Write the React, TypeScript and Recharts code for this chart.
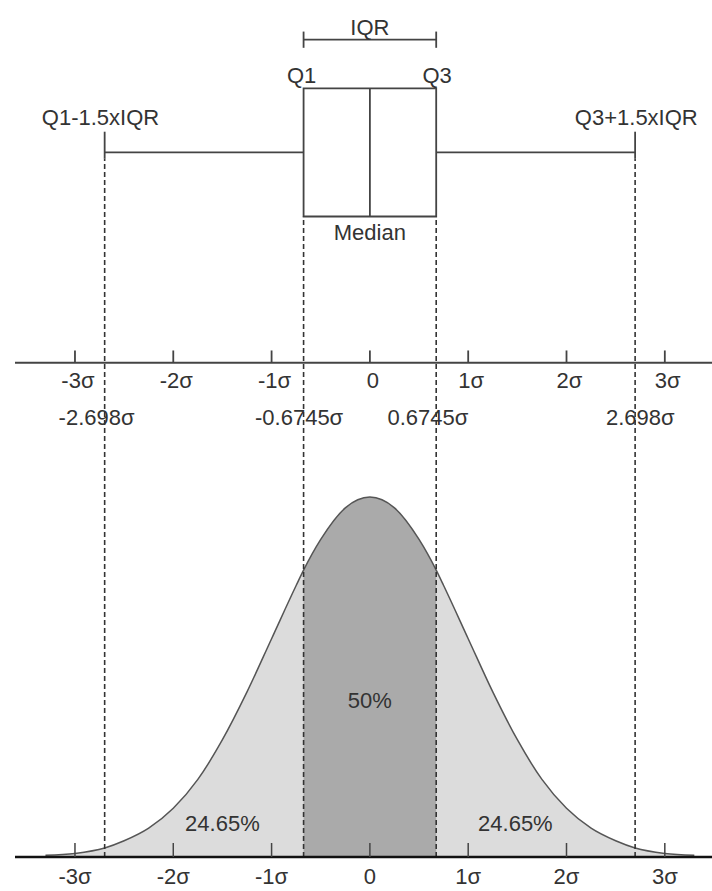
import {
  ComposedChart,
  Area,
  Line,
  XAxis,
  YAxis,
  ReferenceLine,
  ReferenceArea,
  ReferenceDot
} from 'recharts'

// normal curve (sigma units / density)
const sigmaX = [-3.3, -3, -2.698, -2.5, -2.25, -2, -1.75, -1.5, -1.25, -1, -0.75, -0.6745, -0.5, -0.25, 0,
  0.25, 0.5, 0.6745, 0.75, 1, 1.25, 1.5, 1.75, 2, 2.25, 2.5, 2.698, 3, 3.3]
const density = [0.002, 0.004, 0.010, 0.018, 0.032, 0.054, 0.086, 0.130, 0.183, 0.242, 0.301, 0.318, 0.352, 0.387, 0.399,
  0.387, 0.352, 0.318, 0.301, 0.242, 0.183, 0.130, 0.086, 0.054, 0.032, 0.018, 0.010, 0.004, 0.002]

// box plot in sigma units
const q1 = -0.6745
const median = 0
const q3 = 0.6745
const lowFence = -2.698
const highFence = 2.698

const sigmaTicks = [-3, -2, -1, 0, 1, 2, 3]
const sigmaTickLabels = ['-3σ', '-2σ', '-1σ', '0', '1σ', '2σ', '3σ']

const areaLabels = ['24.65%', '50%', '24.65%']
const areaLabelX = [-1.5, 0, 1.48]

const fenceLabels = ['-2.698σ', '-0.6745σ', '0.6745σ', '2.698σ']
const fenceLabelX = [-2.78, -0.72, 0.59, 2.75]

// vertical layout (same units as the density axis)
const BOX_BOTTOM = 0.71
const BOX_TOP = 0.852
const WHISKER_Y = 0.781
const CAP_TOP = 0.804
const CAP_BOTTOM = 0.774
const IQR_Y = 0.906
const IQR_CAP = 0.009
const MID_AXIS = 0.548
const MID_TICK = 0.0135

const data = sigmaX.map((x, i) => ({
  x,
  density: density[i],
  iqr: x >= q1 && x <= q3 ? density[i] : null
}))

const INK = '#444'
const TEXT = '#333'
const FONT = 22

const tickLabel = (v: number) => sigmaTickLabels[sigmaTicks.indexOf(v)]

const SigmaTick = (props: any) => {
  const { x, y, payload } = props
  return (
    <g>
      <line x1={x} y1={y - 14} x2={x} y2={y} stroke={INK} strokeWidth={1.5} />
      <text x={x} y={y + 21} textAnchor="middle" dominantBaseline="middle" fill={TEXT} fontSize={FONT}>
        {tickLabel(payload.value)}
      </text>
    </g>
  )
}

const note = (key: string, x: number, y: number, value: string) => (
  <ReferenceDot
    key={key}
    x={x}
    y={y}
    r={0}
    fill="none"
    stroke="none"
    label={{ value, position: 'center', fill: TEXT, fontSize: FONT }}
  />
)

const seg = (key: string, x1: number, y1: number, x2: number, y2: number, dashed = false) => (
  <ReferenceLine
    key={key}
    segment={[{ x: x1, y: y1 }, { x: x2, y: y2 }]}
    stroke={dashed ? '#333' : INK}
    strokeWidth={dashed ? 1.6 : 1.8}
    strokeDasharray={dashed ? '5 3' : undefined}
  />
)

export default function App() {
  return (
    <div style={{ position: 'absolute', left: 0, top: 0, fontFamily: '"Liberation Sans", Arial, sans-serif' }}>
      <ComposedChart width={712} height={891} data={data} margin={{ top: 0, right: 0, left: 15, bottom: 0 }}>
        <XAxis
          dataKey="x"
          type="number"
          domain={[-3.61, 3.48]}
          ticks={sigmaTicks}
          allowDataOverflow
          height={34}
          tickSize={0}
          tickMargin={0}
          tickLine={false}
          tick={<SigmaTick />}
          axisLine={{ stroke: '#111', strokeWidth: 2.5 }}
        />
        <YAxis hide domain={[0, 0.95]} allowDataOverflow width={0} />
        <Area
          dataKey="density"
          type="monotone"
          fill="#dcdcdc"
          fillOpacity={1}
          stroke="none"
          isAnimationActive={false}
        />
        <Area
          dataKey="iqr"
          type="monotone"
          fill="#aaaaaa"
          fillOpacity={1}
          stroke="none"
          isAnimationActive={false}
        />
        <Line
          dataKey="density"
          type="monotone"
          stroke="#555"
          strokeWidth={1.5}
          dot={false}
          isAnimationActive={false}
        />

        {/* dashed guides */}
        {seg('dl', lowFence, 0, lowFence, CAP_BOTTOM, true)}
        {seg('dq1', q1, 0, q1, BOX_BOTTOM, true)}
        {seg('dq3', q3, 0, q3, BOX_BOTTOM, true)}
        {seg('dh', highFence, 0, highFence, CAP_BOTTOM, true)}

        {/* middle sigma axis */}
        <ReferenceLine y={MID_AXIS} stroke={INK} strokeWidth={2} />
        {sigmaTicks.map((t) => seg(`mt${t}`, t, MID_AXIS, t, MID_AXIS + MID_TICK))}

        {/* box plot */}
        <ReferenceArea
          x1={q1}
          x2={q3}
          y1={BOX_BOTTOM}
          y2={BOX_TOP}
          fill="#fff"
          fillOpacity={1}
          stroke={INK}
          strokeWidth={1.8}
        />
        {seg('med', median, BOX_BOTTOM, median, BOX_TOP)}
        {seg('wl', lowFence, WHISKER_Y, q1, WHISKER_Y)}
        {seg('wh', q3, WHISKER_Y, highFence, WHISKER_Y)}
        {seg('cl', lowFence, CAP_BOTTOM, lowFence, CAP_TOP)}
        {seg('ch', highFence, CAP_BOTTOM, highFence, CAP_TOP)}
        {seg('iqr', q1, IQR_Y, q3, IQR_Y)}
        {seg('iqr1', q1, IQR_Y - IQR_CAP, q1, IQR_Y + IQR_CAP)}
        {seg('iqr3', q3, IQR_Y - IQR_CAP, q3, IQR_Y + IQR_CAP)}

        {/* texts */}
        {note('tIQR', median, 0.92, 'IQR')}
        {note('tQ1', q1 - 0.02, 0.867, 'Q1')}
        {note('tQ3', q3 + 0.01, 0.867, 'Q3')}
        {note('tLF', -2.74, 0.82, 'Q1-1.5xIQR')}
        {note('tHF', 2.71, 0.82, 'Q3+1.5xIQR')}
        {note('tMed', median, 0.693, 'Median')}
        {sigmaTicks.map((t, i) => note(`ml${t}`, t + 0.03, 0.529, sigmaTickLabels[i]))}
        {fenceLabels.map((l, i) => note(`fl${i}`, fenceLabelX[i], 0.488, l))}
        {note('a0', areaLabelX[0], 0.037, areaLabels[0])}
        {note('a1', areaLabelX[1], 0.174, areaLabels[1])}
        {note('a2', areaLabelX[2], 0.037, areaLabels[2])}
      </ComposedChart>
    </div>
  )
}
